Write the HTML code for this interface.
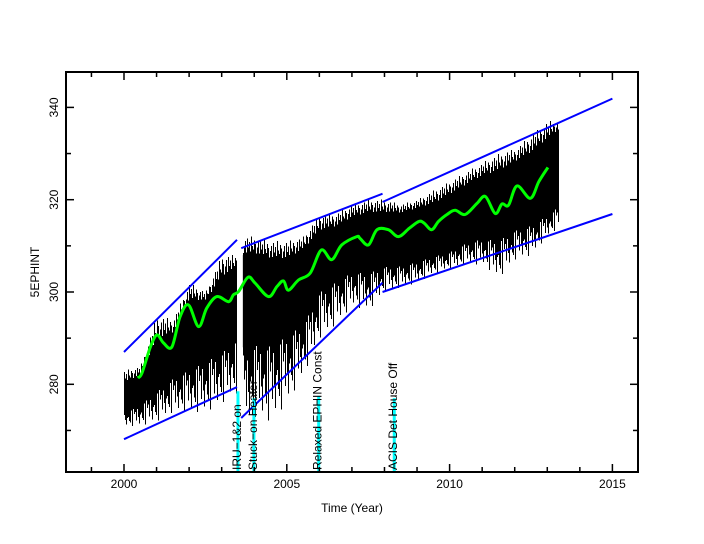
<!DOCTYPE html>
<html><head><meta charset="utf-8"><style>
body{margin:0;background:#fff}
svg{display:block;font-family:"Liberation Sans",sans-serif}
</style></head><body>
<svg id="chart" width="704" height="544">
<rect width="704" height="544" fill="#fff"/>
<g id="band"></g>
<g id="fits"></g>
<g id="events"></g>
<g id="smooth"></g>
<rect x="66" y="72" width="572" height="400" fill="none" stroke="#000" stroke-width="2"/>
<g id="axes"></g>
<text x="352" y="512" font-size="12" text-anchor="middle">Time (Year)</text>
<text transform="translate(39,272) rotate(-90)" font-size="12" text-anchor="middle">5EPHINT</text>
</svg>
<script>
const bandYears=[2000.0,2000.5,2001,2001.5,2002,2002.5,2003,2003.45,2003.65,2004,2004.5,2005,2005.5,2006,2006.5,2007,2007.5,2008,2008.5,2009,2009.5,2010,2010.5,2011,2011.5,2012,2012.5,2013,2013.35];
const bandHi=[280,282,289,291,298,298,303,305,308,308,307,307,309,313,314,316,317,317,317,318,319,321,323,325,326,328,330,333,335];
const bandLo=[274,276,279,282,284,286,288,291,288,290,290,292,294,301,303,305,305,306,306,307,308,309,311,312,312,314,315,317,319];
const spikeHi=[283,284,295,294,302,300,308,308,312,312,311,311,312,317,317,319,320,320,319,320,322,324,326,328,330,331,334,337,337];
const spikeLo=[271,271,272,274,274,274,276,278,270,273,272,276,282,290,293,297,296,300,301,302,304,305,306,306,303,307,308,312,314];
const smoothYears=[2000.42,2000.55,2000.81,2001.01,2001.21,2001.47,2001.72,2001.98,2002.29,2002.54,2002.85,2003.21,2003.36,2003.52,2003.81,2004.03,2004.44,2004.70,2004.90,2005.05,2005.36,2005.72,2006.06,2006.38,2006.69,2007.15,2007.25,2007.51,2007.77,2008.12,2008.43,2008.76,2009.06,2009.22,2009.45,2009.66,2009.92,2010.17,2010.48,2010.84,2011.1,2011.4,2011.61,2011.81,2012.07,2012.48,2012.74,2013.02];
const smoothVals=[281.4,282.4,288.1,290.7,289,288.1,294.6,297.2,292.5,296.5,299,297.9,299.4,300.1,303.2,301.9,299,301.2,302.4,300.4,302.6,304.1,309.1,307,310.2,312,311.6,310.2,313.5,313.5,312,313.8,315.3,314.9,313.5,315.3,316.8,317.7,316.8,319.2,320.7,317,319.1,318.8,323,320.3,323.9,327];
const fitX1=[2000,2000,2003.6,2003.6,2007.94,2007.94];
const fitY1=[287,268.1,309.5,272.7,319.5,300];
const fitX2=[2003.47,2003.47,2007.94,2007.94,2015,2015];
const fitY2=[311.3,279.4,321.3,302,341.9,316.9];
const eventYears=[2003.5,2003.99,2005.98,2008.3];
const eventTops=[278.5,277,277.5,277];
const eventLabels=["IRU\u22121&2 on","Stuck\u2212on Heater","Relaxed EPHIN Const","ACIS Det House Off"];
const xTicks=[2000,2005,2010,2015];
const yTicks=[280,300,320,340];

const X=v=>124+(v-2000)*32.56;
const Y=v=>292-(v-300)*4.615;
const NS="http://www.w3.org/2000/svg";
function mk(tag,attrs,parent){const e=document.createElementNS(NS,tag);for(const k in attrs)e.setAttribute(k,attrs[k]);parent.appendChild(e);return e;}
function interp(xs,ys,x){for(let i=0;i<xs.length-1;i++){if(x>=xs[i]&&x<=xs[i+1]){const t=(x-xs[i])/(xs[i+1]-xs[i]);return ys[i]+t*(ys[i+1]-ys[i]);}}return null;}

const band=document.getElementById('band');
function bandSeg(i0,i1){
  let pts=[];
  for(let i=i0;i<=i1;i++)pts.push(X(bandYears[i])+','+Y(bandHi[i]));
  for(let i=i1;i>=i0;i--)pts.push(X(bandYears[i])+','+Y(bandLo[i]));
  const p=mk('polygon',{points:pts.join(' '),fill:'#000'},band);
  
  
}
bandSeg(0,7);bandSeg(8,bandYears.length-1);
const pat=[0.9,0.4,0.7,0.2,1,0.5,0.3,0.8,0.6,0.1,0.45,0.75,0.15];
let k=0;
for(let px=Math.round(X(bandYears[0]));px<=X(bandYears[bandYears.length-1]);px+=1){
  const yr=2000+(px-124)/32.56;
  if(yr>2003.45&&yr<2003.65)continue;
  const hi=interp(bandYears,bandHi,yr),lo=interp(bandYears,bandLo,yr);
  const sh=interp(bandYears,spikeHi,yr),sl=interp(bandYears,spikeLo,yr);
  if(hi==null)continue;
  const f1=pat[k%13],f2=pat[(k*5+3)%13];k++;
  const l=mk('line',{x1:px+0.5,x2:px+0.5,y1:Y(hi+(sh-hi)*f1),y2:Y(lo-(lo-sl)*f2),stroke:'#000','stroke-width':1,'shape-rendering':'crispEdges'},band);
  
  
}

const fits=document.getElementById('fits');
for(let i=0;i<fitX1.length;i++){
  const l=mk('line',{x1:X(fitX1[i]),y1:Y(fitY1[i]),x2:X(fitX2[i]),y2:Y(fitY2[i]),stroke:'#0000ff','stroke-width':2},fits);
  
  
}

const ev=document.getElementById('events');
for(let i=0;i<eventYears.length;i++){
  const x=X(eventYears[i]);
  const l=mk('line',{x1:x,x2:x,y1:471,y2:Y(eventTops[i]),stroke:'#00ffff','stroke-width':3},ev);
  
  
  const t=mk('text',{transform:`translate(${x+3},470) rotate(-90)`,'font-size':12,fill:'#000'},ev);
  t.textContent=eventLabels[i];
  
  
}

const sm=document.getElementById('smooth');
const P=smoothYears.map((y,i)=>[X(y),Y(smoothVals[i])]);
let d='M'+P[0][0].toFixed(1)+','+P[0][1].toFixed(1);
for(let i=0;i<P.length-1;i++){
  const p0=P[Math.max(0,i-1)],p1=P[i],p2=P[i+1],p3=P[Math.min(P.length-1,i+2)];
  const c1=[p1[0]+(p2[0]-p0[0])/6,p1[1]+(p2[1]-p0[1])/6];
  const c2=[p2[0]-(p3[0]-p1[0])/6,p2[1]-(p3[1]-p1[1])/6];
  d+=` C${c1[0].toFixed(1)},${c1[1].toFixed(1)} ${c2[0].toFixed(1)},${c2[1].toFixed(1)} ${p2[0].toFixed(1)},${p2[1].toFixed(1)}`;
}
const sp=mk('path',{d:d,fill:'none',stroke:'#00ff00','stroke-width':3,'stroke-linejoin':'round'},sm);



const ax=document.getElementById('axes');
for(let yr=1999;yr<=2015;yr++){
  const x=X(yr),len=(yr%5===0)?8:5;
  const a=mk('line',{x1:x,x2:x,y1:472,y2:472-len,stroke:'#000','stroke-width':1.5},ax);
  
  
  const b=mk('line',{x1:x,x2:x,y1:72,y2:72+len,stroke:'#000','stroke-width':1.5},ax);
  
  
}
xTicks.forEach(v=>{
  const t=mk('text',{x:X(v),y:488,'font-size':12,'text-anchor':'middle'},ax);
  t.textContent=v;
  
  
});
for(let v=270;v<=340;v+=10){
  const y=Y(v),len=(v%20===0)?8:5;
  const a=mk('line',{x1:66,x2:66+len,y1:y,y2:y,stroke:'#000','stroke-width':1.5},ax);
  
  
  const b=mk('line',{x1:638,x2:638-len,y1:y,y2:y,stroke:'#000','stroke-width':1.5},ax);
  
  
}
yTicks.forEach(v=>{
  const t=mk('text',{transform:`translate(58,${Y(v)}) rotate(-90)`,'font-size':12,'text-anchor':'middle'},ax);
  t.textContent=v;
  
  
});
</script>
</body></html>
